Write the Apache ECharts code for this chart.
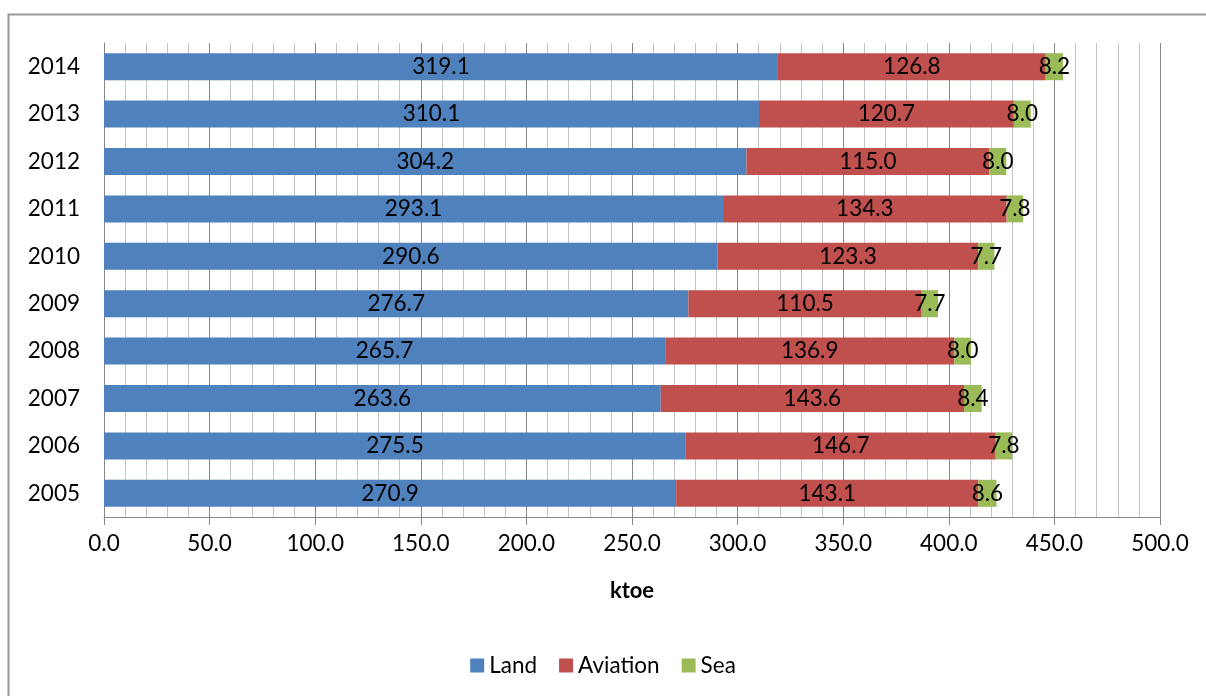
<!DOCTYPE html>
<html>
<head>
<meta charset="utf-8">
<script src="https://cdn.jsdelivr.net/npm/echarts@6/dist/echarts.min.js"></script>
<style>
  html, body { margin: 0; padding: 0; background: #fff; }
  #chart { width: 1206px; height: 696px; }
</style>
</head>
<body>
<div id="chart"></div>
<script>
// Final energy consumption in transport by mode, ktoe
const years = ['2005', '2006', '2007', '2008', '2009', '2010', '2011', '2012', '2013', '2014'];
const land = [270.9, 275.5, 263.6, 265.7, 276.7, 290.6, 293.1, 304.2, 310.1, 319.1];
const aviation = [143.1, 146.7, 143.6, 136.9, 110.5, 123.3, 134.3, 115.0, 120.7, 126.8];
const sea = [8.6, 7.8, 8.4, 8.0, 7.7, 7.7, 7.8, 8.0, 8.0, 8.2];
const xTicks = { min: 0, max: 500, interval: 50 };

const FONT = 'Lato, "Open Sans", sans-serif';

const chart = echarts.init(document.getElementById('chart'), null, { renderer: 'canvas' });

function seg(name, data, color) {
  return {
    name: name,
    type: 'bar',
    stack: 'total',
    data: data,
    barWidth: '57%',
    itemStyle: { color: color },
    label: {
      show: true,
      position: 'inside',
      formatter: p => p.value.toFixed(1),
      color: '#000',
      fontFamily: FONT,
      fontSize: 22.5
    },
    emphasis: { disabled: true }
  };
}

chart.setOption({
  animation: false,
  backgroundColor: '#fff',
  textStyle: { fontFamily: FONT },
  graphic: [{
    type: 'rect',
    shape: { x: 8.5, y: 14.5, width: 1400, height: 900 },
    style: { fill: 'none', stroke: '#999', lineWidth: 2 },
    silent: true,
    z: -1
  }],
  grid: { left: 104, right: 46, top: 43, bottom: 179, containLabel: false },
  legend: {
    top: 649,
    left: 'center',
    itemWidth: 14,
    itemHeight: 14,
    itemGap: 22,
    icon: 'rect',
    textStyle: { fontFamily: FONT, fontSize: 22.5, color: '#000' },
    data: ['Land', 'Aviation', 'Sea']
  },
  xAxis: {
    type: 'value',
    min: xTicks.min,
    max: xTicks.max,
    interval: xTicks.interval,
    name: 'ktoe',
    nameLocation: 'middle',
    nameGap: 63,
    nameTextStyle: { fontFamily: FONT, fontSize: 22, fontWeight: 'bold', color: '#000' },
    axisLine: { show: true, lineStyle: { color: '#888', width: 1 } },
    axisTick: { show: true, length: 8, lineStyle: { color: '#888' } },
    axisLabel: {
      margin: 15,
      fontFamily: FONT,
      fontSize: 22.5,
      color: '#000',
      formatter: v => v.toFixed(1)
    },
    splitLine: { show: true, lineStyle: { color: '#888', width: 1 } },
    minorTick: { show: false, splitNumber: 5 },
    minorSplitLine: { show: true, lineStyle: { color: '#c4c4c4', width: 1 } }
  },
  yAxis: {
    type: 'category',
    data: years,
    axisLine: { show: true, lineStyle: { color: '#888', width: 1 } },
    axisTick: { show: false },
    axisLabel: { margin: 24, fontFamily: FONT, fontSize: 22.5, color: '#000' },
    splitLine: { show: false }
  },
  series: [
    seg('Land', land, '#4F81BD'),
    seg('Aviation', aviation, '#C0504D'),
    seg('Sea', sea, '#9BBB59')
  ]
});
</script>
</body>
</html>
